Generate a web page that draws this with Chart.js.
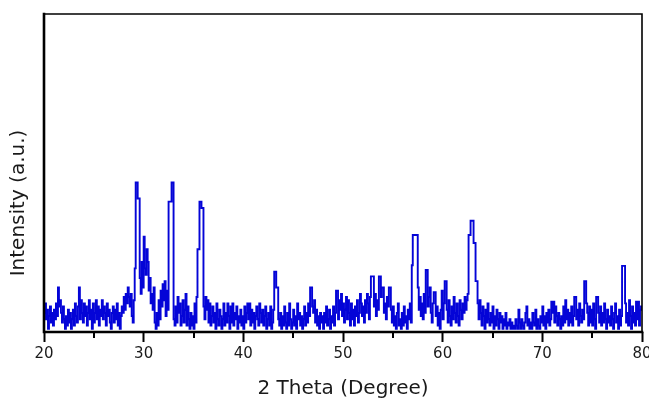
<!DOCTYPE html>
<html>
<head>
<meta charset="utf-8">
<script src="https://cdn.jsdelivr.net/npm/chart.js@4/dist/chart.umd.min.js"></script>
<style>
  html, body { margin: 0; padding: 0; background: #ffffff; }
  #wrap { width: 649px; height: 401px; }
</style>
</head>
<body>
<div id="wrap"><canvas id="xrd" width="649" height="401"></canvas></div>
<script>
// Diffraction scan: intensity (a.u.) sampled every 0.1 degree of 2-theta, 20 to 80
const scanStart = 20;
const scanStep = 0.1;
const intensity = [
  2, 6, 9, 4, 7, 1, 5, 8, 3, 6,                       // 20
  2, 7, 4, 9, 5, 14, 8, 10, 6, 3,                     // 21
  8, 4, 1, 5, 2, 7, 3, 6, 1, 4,                       // 22
  7, 2, 9, 5, 3, 8, 14, 4, 10, 6,                     // 23
  3, 9, 5, 8, 2, 6, 10, 4, 7, 1,                      // 24
  9, 3, 6, 10, 4, 8, 2, 7, 5, 10,                     // 25
  4, 8, 6, 2, 9, 5, 7, 3, 1, 6,                       // 26
  8, 3, 7, 4, 9, 2, 6, 1, 5, 8,                       // 27
  6, 11, 7, 12, 9, 14, 11, 8, 12, 5,                  // 28
  3, 10, 20, 47, 47, 42, 42, 17, 12, 22,              // 29
  14, 30, 20, 18, 26, 22, 13, 17, 9, 12,              // 30
  7, 14, 3, 1, 6, 2, 10, 4, 13, 8,                    // 31
  15, 10, 16, 5, 13, 7, 41, 41, 41, 47,               // 32
  47, 4, 2, 8, 3, 11, 6, 9, 2, 5,                     // 33
  10, 3, 7, 12, 2, 8, 4, 1, 6, 2,                     // 34
  5, 1, 9, 3, 11, 26, 26, 41, 41, 39,                 // 35
  39, 8, 4, 11, 7, 10, 3, 9, 2, 5,                    // 36
  8, 3, 6, 1, 9, 4, 2, 7, 5, 1,                       // 37
  4, 9, 2, 6, 3, 9, 5, 1, 8, 3,                       // 38
  9, 2, 6, 4, 8, 1, 5, 3, 7, 2,                       // 39
  5, 1, 8, 3, 6, 9, 4, 9, 2, 7,                       // 40
  3, 6, 1, 5, 8, 4, 2, 9, 6, 3,                       // 41
  7, 2, 5, 8, 1, 4, 6, 2, 8, 1,                       // 42
  3, 7, 19, 19, 14, 14, 4, 2, 6, 1,                   // 43
  5, 2, 8, 3, 1, 6, 2, 9, 4, 1,                       // 44
  3, 7, 2, 5, 1, 9, 4, 6, 2, 5,                       // 45
  1, 4, 8, 2, 6, 3, 9, 5, 14, 14,                     // 46
  8, 6, 10, 3, 7, 2, 5, 1, 6, 3,                      // 47
  5, 1, 6, 3, 8, 2, 4, 7, 1, 5,                       // 48
  3, 8, 2, 6, 13, 13, 4, 10, 7, 12,                   // 49
  5, 9, 3, 7, 11, 4, 10, 6, 2, 9,                     // 50
  4, 7, 2, 8, 5, 10, 3, 6, 12, 9,                     // 51
  5, 8, 3, 10, 6, 12, 9, 4, 11, 17.5,                 // 52
  17.5, 17.5, 8, 12, 5, 10, 7, 17.5, 17.5, 11,        // 53
  14, 14, 6, 9, 4, 11, 8, 14, 14, 7,                  // 54
  3, 8, 2, 5, 1, 6, 9, 2, 4, 1,                       // 55
  6, 2, 8, 3, 5, 1, 7, 4, 9, 3,                       // 56
  21, 30.5, 30.5, 30.5, 30.5, 30.5, 14, 7, 11, 5,     // 57
  9, 4, 12, 6, 19.5, 19.5, 8, 11, 14, 6,              // 58
  3, 9, 12.5, 12.5, 5, 8, 2, 6, 1, 7,                 // 59
  13, 4, 9, 16, 16, 7, 3, 10, 5, 2,                   // 60
  8, 4, 11, 6, 3, 9, 5, 2, 10, 7,                     // 61
  4, 9, 6, 11, 7, 10, 12, 30.5, 30.5, 35,             // 62
  35, 35, 28, 28, 16, 16, 9, 4, 10, 6,                // 63
  2, 8, 5, 1, 7, 3, 9, 4, 2, 6,                       // 64
  3, 8, 1, 5, 2, 7, 4, 1, 6, 3,                       // 65
  5, 1, 4, 2, 6, 1, 3, 2, 4, 1,                       // 66
  3, 1, 2, 1, 4, 2, 1, 7, 3, 1,                       // 67
  4, 2, 1, 3, 6, 8, 2, 4, 1, 3,                       // 68
  1, 6, 3, 2, 7, 1, 4, 2, 1, 5,                       // 69
  3, 8, 2, 5, 1, 6, 3, 7, 2, 4,                       // 70
  9.5, 6, 9.5, 3, 8, 5, 2, 6, 4, 1,                   // 71
  5, 2, 8, 3, 10, 4, 7, 2, 6, 3,                      // 72
  8, 2, 5, 11, 11, 4, 7, 2, 9, 5,                     // 73
  3, 7, 4, 16, 16, 9, 6, 2, 8, 3,                     // 74
  7, 2, 9, 4, 1, 11, 11, 6, 3, 8,                     // 75
  2, 6, 3, 9, 4, 1, 7, 3, 5, 2,                       // 76
  8, 4, 1, 6, 9, 3, 5, 1, 7, 2,                       // 77
  5, 20.8, 20.8, 20.8, 9, 3, 6, 2, 10, 5,             // 78
  1, 8, 3, 6, 2, 9.5, 4, 9.5, 2, 7,                   // 79
  8                                                   // 80
];
const twoTheta = intensity.map((_, i) => +(scanStart + i * scanStep).toFixed(1));

const majorTicks = [20, 30, 40, 50, 60, 70, 80];
const minorTicks = [25, 35, 45, 55, 65, 75];
const xTitle = '2 Theta (Degree)';
const yTitle = 'Intensity (a.u.)';

const fontFamily = '"DejaVu Sans", Verdana, sans-serif';
const inkColor = '#1a1a1a';

// Frame around the plot area, minor ticks on the 2-theta axis and the rotated intensity label
const framePlugin = {
  id: 'frame',
  afterDraw(chart) {
    const { ctx, chartArea: a, scales } = chart;
    const x = scales.x;
    ctx.save();
    ctx.strokeStyle = '#000';
    ctx.lineCap = 'square';
    // top and right edges
    ctx.lineWidth = 1.6;
    ctx.beginPath();
    ctx.moveTo(a.left, a.top);
    ctx.lineTo(a.right, a.top);
    ctx.lineTo(a.right, a.bottom);
    ctx.stroke();
    // left and bottom axes
    ctx.lineWidth = 2.6;
    ctx.beginPath();
    ctx.moveTo(a.left, a.top);
    ctx.lineTo(a.left, a.bottom);
    ctx.lineTo(a.right, a.bottom);
    ctx.stroke();
    // minor ticks
    ctx.lineWidth = 2;
    ctx.lineCap = 'butt';
    ctx.beginPath();
    minorTicks.forEach(v => {
      const px = Math.round(x.getPixelForValue(v));
      ctx.moveTo(px, a.bottom);
      ctx.lineTo(px, a.bottom + 6);
    });
    ctx.stroke();
    // y-axis title
    ctx.fillStyle = inkColor;
    ctx.font = '20px ' + fontFamily;
    ctx.textAlign = 'center';
    ctx.textBaseline = 'middle';
    ctx.translate(19, 203);
    ctx.rotate(-Math.PI / 2);
    ctx.fillText(yTitle, 0, 0);
    ctx.restore();
  }
};

new Chart(document.getElementById('xrd'), {
  type: 'line',
  data: {
    datasets: [{
      data: twoTheta.map((t, i) => ({ x: t, y: intensity[i] })),
      borderColor: 'rgb(4, 4, 215)',
      borderWidth: 1.9,
      stepped: 'after',
      pointRadius: 0,
      fill: false,
      tension: 0
    }]
  },
  options: {
    responsive: false,
    animation: false,
    devicePixelRatio: 1,
    layout: { padding: { top: 14, right: 7, left: 0, bottom: 0 } },
    plugins: { legend: { display: false }, tooltip: { enabled: false } },
    scales: {
      x: {
        type: 'linear',
        min: 20,
        max: 80,
        afterBuildTicks(scale) {
          scale.ticks = majorTicks.map(v => ({ value: v }));
        },
        afterFit(scale) {
          scale.height = 69;
          scale.paddingLeft = 0;
          scale.paddingRight = 0;
        },
        grid: {
          drawOnChartArea: false,
          drawTicks: true,
          tickLength: 10,
          tickColor: '#000',
          tickWidth: 2
        },
        border: { display: false },
        ticks: {
          color: inkColor,
          padding: 3,
          maxRotation: 0,
          autoSkip: false,
          font: { family: fontFamily, size: 15 }
        },
        title: {
          display: true,
          text: xTitle,
          color: inkColor,
          font: { family: fontFamily, size: 20 },
          padding: { top: 0, bottom: 0 }
        }
      },
      y: {
        min: 0,
        max: 100,
        afterFit(scale) { scale.width = 44; },
        grid: { display: false },
        border: { display: false },
        ticks: { display: false }
      }
    }
  },
  plugins: [framePlugin]
});
</script>
</body>
</html>
